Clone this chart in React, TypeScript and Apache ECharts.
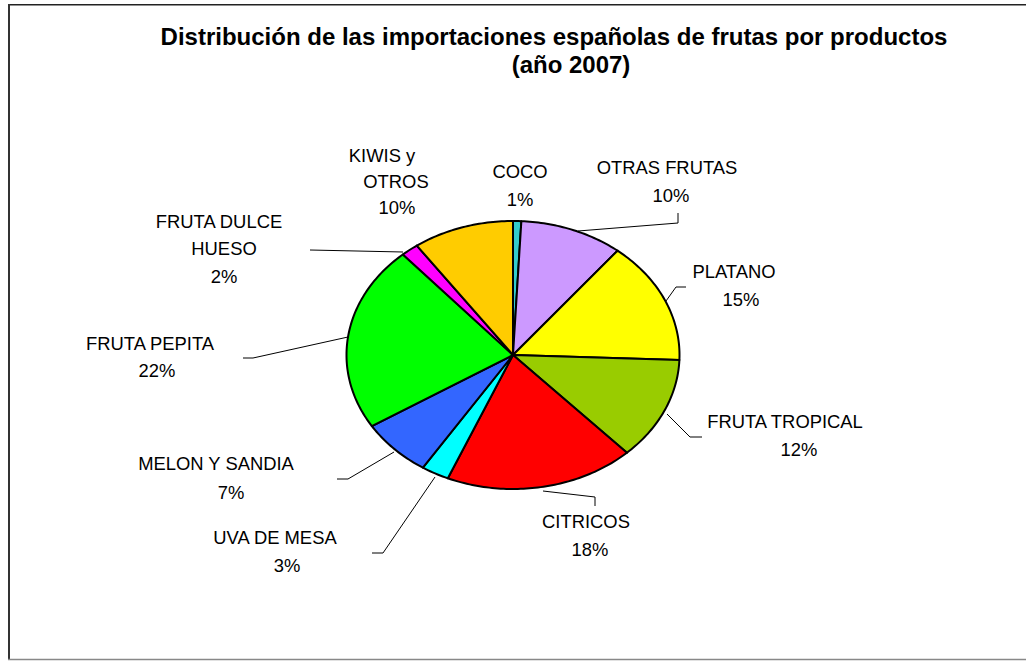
import React, { useEffect, useRef } from "react";
import * as echarts from "echarts";

// ---- data ----
const categories = [
  "COCO",
  "OTRAS FRUTAS",
  "PLATANO",
  "FRUTA TROPICAL",
  "CITRICOS",
  "UVA DE MESA",
  "MELON Y SANDIA",
  "FRUTA PEPITA",
  "FRUTA DULCE\nHUESO",
  "KIWIS y\nOTROS",
];
const shares = [0.8, 10.0, 14.8, 12.4, 18.4, 2.7, 7.0, 22.4, 1.7, 9.8];
const colors = [
  "#33CCCC",
  "#CC99FF",
  "#FFFF00",
  "#99CC00",
  "#FF0000",
  "#00FFFF",
  "#3366FF",
  "#00FF00",
  "#FF00FF",
  "#FFCC00",
];
const titleLines = [
  "Distribución de las importaciones españolas de frutas por productos",
  "(año 2007)",
];

// ---- layout (positions only) ----
const PIE = { cx: 513, cy: 355, rx: 166.5, ry: 134 };
const labelPos: number[][][] = [
  [[520, 171], [520, 199]],
  [[667, 167], [671, 195]],
  [[734, 271], [741, 299]],
  [[785, 421], [799, 449]],
  [[586, 521], [590, 549]],
  [[275, 537], [287, 565]],
  [[216, 463], [231, 492]],
  [[150, 343], [157, 370]],
  [[219, 221], [224, 248], [224, 276]],
  [[382, 155], [396, 181], [397, 207]],
];
const leaderPos: (number[][] | null)[] = [
  null,
  [[678, 213], [678, 223], [578, 231]],
  [[686, 287], [676, 287], [666, 301]],
  [[667, 414], [690, 437], [702, 437]],
  [[543, 491], [595, 497], [595, 506]],
  [[435, 477], [383, 553], [372, 553]],
  [[394, 452], [348, 479], [337, 479]],
  [[348, 337], [253, 358], [243, 358]],
  [[310, 250], [403, 252]],
  null,
];

const total = shares.reduce((a, b) => a + b, 0);
const starts: number[] = [];
{
  let acc = 0;
  for (const v of shares) {
    starts.push(acc);
    acc += v;
  }
}

const FONT = '"Liberation Sans", Arial, sans-serif';

export default function App() {
  const ref = useRef<HTMLDivElement>(null);
  useEffect(() => {
    if (!ref.current) return;
    const chart = echarts.init(ref.current, undefined, { renderer: "svg" });
    const renderItem = (params: any, api: any) => {
      const i = params.dataIndex;
      const v = api.value(0);
      const a0 = (starts[i] / total) * Math.PI * 2;
      const a1 = ((starts[i] + v) / total) * Math.PI * 2;
      const pts: number[][] = [[PIE.cx, PIE.cy]];
      const steps = Math.max(2, Math.ceil(((a1 - a0) * 180) / Math.PI));
      for (let k = 0; k <= steps; k++) {
        const a = a0 + ((a1 - a0) * k) / steps;
        pts.push([PIE.cx + PIE.rx * Math.sin(a), PIE.cy - PIE.ry * Math.cos(a)]);
      }
      const children: any[] = [
        {
          type: "polygon",
          shape: { points: pts },
          style: { fill: colors[i], stroke: "#000", lineWidth: 2, lineJoin: "round" },
        },
      ];
      const lp = leaderPos[i];
      if (lp) {
        children.push({
          type: "polyline",
          shape: { points: lp },
          style: { stroke: "#000", lineWidth: 1, fill: null },
        });
      }
      const lines = categories[i].split("\n").concat([Math.round((v / total) * 100) + "%"]);
      lines.forEach((t, j) => {
        const p = labelPos[i][j];
        children.push({
          type: "text",
          x: p[0],
          y: p[1],
          style: {
            text: t,
            fill: "#000",
            fontSize: 18.4,
            fontFamily: FONT,
            align: "center",
            verticalAlign: "middle",
          },
        });
      });
      return { type: "group", children };
    };
    chart.setOption({
      animation: false,
      backgroundColor: "#fff",
      graphic: [
        { type: "line", shape: { x1: 8, y1: 4.7, x2: 1026, y2: 4.7 }, style: { stroke: "#222", lineWidth: 1.5 } },
        { type: "line", shape: { x1: 9, y1: 4, x2: 9, y2: 660 }, style: { stroke: "#333", lineWidth: 2 } },
        { type: "line", shape: { x1: 8, y1: 659.5, x2: 1026, y2: 659.5 }, style: { stroke: "#888", lineWidth: 1.5 } },
        {
          type: "text",
          x: 554,
          y: 36,
          style: {
            text: titleLines[0],
            fill: "#000",
            fontSize: 24,
            fontWeight: "bold",
            fontFamily: FONT,
            align: "center",
            verticalAlign: "middle",
          },
        },
        {
          type: "text",
          x: 571,
          y: 64,
          style: {
            text: titleLines[1],
            fill: "#000",
            fontSize: 24,
            fontWeight: "bold",
            fontFamily: FONT,
            align: "center",
            verticalAlign: "middle",
          },
        },
      ],
      series: [
        {
          type: "custom",
          coordinateSystem: "none",
          renderItem,
          data: shares.map((v, i) => ({ name: categories[i], value: [v] })),
        },
      ],
    });
    return () => chart.dispose();
  }, []);
  return (
    <div
      ref={ref}
      style={{ position: "fixed", left: 0, top: 0, width: 1026, height: 661 }}
    />
  );
}
